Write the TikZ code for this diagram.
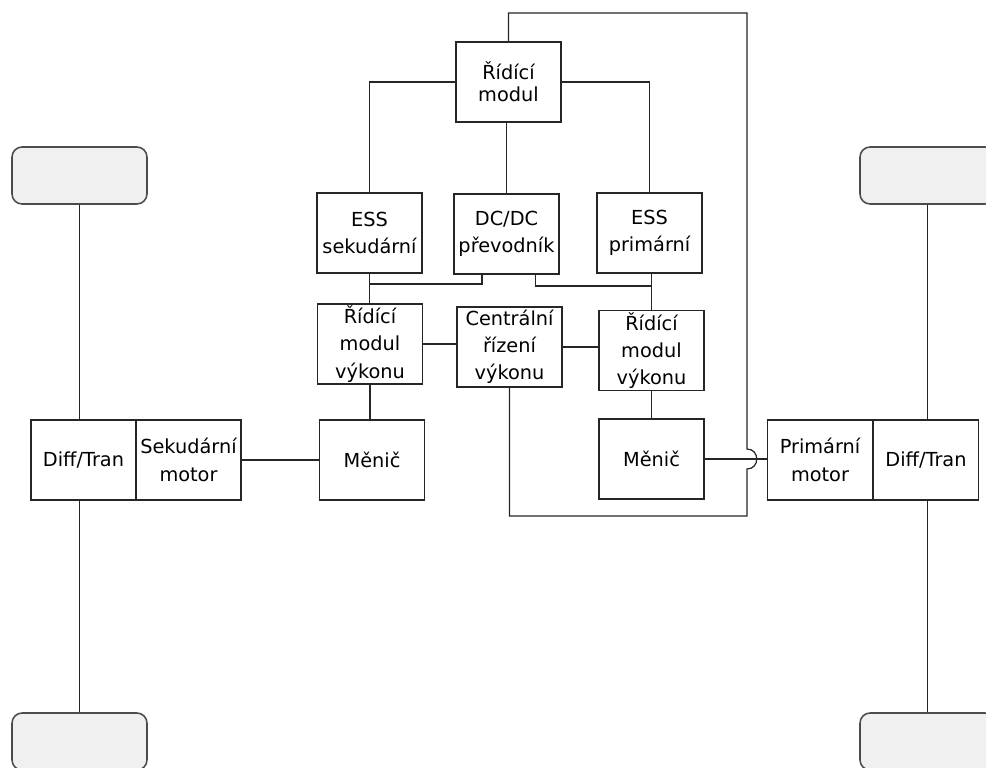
\documentclass[tikz,border=0pt]{standalone}
\usepackage{fontspec}
\setmainfont{DejaVu Sans}
\usetikzlibrary{calc}

\begin{document}
\begin{tikzpicture}[x=0.02cm,y=-0.02cm,font=\fontsize{11}{15.5}\selectfont,
  blok/.style={draw=black!85,line width=0.7pt,minimum width=2.1cm,minimum height=1.6cm,align=center,inner sep=0pt},
  kolo/.style={draw=black!70,line width=0.9pt,fill=black!6,rounded corners=0.2cm,minimum width=2.7cm,minimum height=1.14cm},
  spoj/.style={draw=black!85,line width=0.7pt}]
\useasboundingbox (0,0) rectangle (986,767);
\clip (0,0) rectangle (986,767);
% wheels
\foreach \nm/\px/\py in {wlt/79.5/175.5, wlb/79.5/741.5, wrt/927.5/175.5, wrb/927.5/741.5}
  \node[kolo] (\nm) at (\px,\py) {};
% blocks
\node[blok,font=\fontsize{11}{12.5}\selectfont] (rm) at (508.5,82) {Řídící\\modul};
\foreach \nm/\px/\py/\txt in {esss/369.5/233/{ESS\\sekudární}, dcdc/506.5/234/{DC/DC\\převodník},
  essp/649.5/233/{ESS\\primární}, rmvl/370/344/{Řídící\\modul\\výkonu},
  centr/509.5/347/{Centrální\\řízení\\výkonu}, rmvr/651.5/350.5/{Řídící\\modul\\výkonu},
  menl/372/460/{Měnič}, menr/651.5/459/{Měnič},
  dfl/83.5/460/{Diff/Tran}, motl/188.5/460/{Sekudární\\motor},
  motr/820/460/{Primární\\motor}, dfr/926/460/{Diff/Tran}}
  \node[blok] (\nm) at (\px,\py) {\txt};
% control lines
\draw[spoj] (rm.west) -| (esss.north);
\draw[spoj] (dcdc.north) -- (dcdc.north |- rm.south);
\draw[spoj] (rm.east) -| (essp.north);
\draw[spoj] (esss.south) -- (esss.south |- rmvl.north);
\draw[spoj] (rmvr.north) -- (rmvr.north |- essp.south);
\coordinate (jsek) at ($(esss.south)!0.35!(esss.south |- rmvl.north)$);
\coordinate (jpri) at ($(rmvr.north |- essp.south)!0.34!(rmvr.north)$);
\draw[spoj] ($(dcdc.south west)!0.27!(dcdc.south east)$) |- (jsek);
\draw[spoj] ($(dcdc.south west)!0.77!(dcdc.south east)$) |- (jpri);
\draw[spoj] (rmvl.east) -- (rmvl.east -| centr.west);
\draw[spoj] (centr.east) -- (centr.east -| rmvr.west);
\draw[spoj] (rmvl.south) -- (rmvl.south |- menl.north);
\draw[spoj] (rmvr.south) -- (rmvr.south |- menr.north);
\draw[spoj] (menl.west) -- (menl.west -| motl.east);
\draw[spoj] (menr.east) -- (menr.east -| motr.west);
% outer loop with a hop over the inverter line
\coordinate (hore) at (747,13);
\coordinate (dole) at (747,516);
\coordinate (kriz) at (hore |- menr.east);
\draw[spoj] (rm.north) |- (hore) -- ($(kriz)+(0,-10)$)
  .. controls ($(kriz)+(13,-10)$) and ($(kriz)+(13,10)$) .. ($(kriz)+(0,10)$)
  -- (dole) -| (centr.south);
% axles
\draw[spoj] (wlt.south) -- (wlt.south |- dfl.north);
\draw[spoj] (wlt.south |- dfl.south) -- (wlb.north);
\draw[spoj] (wrt.south) -- (wrt.south |- dfr.north);
\draw[spoj] (wrt.south |- dfr.south) -- (wrb.north);
\end{tikzpicture}
\end{document}
